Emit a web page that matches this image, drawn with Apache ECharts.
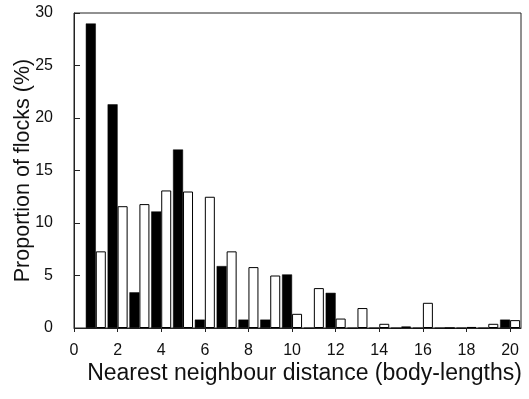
<!DOCTYPE html>
<html>
<head>
<meta charset="utf-8">
<style>html,body{margin:0;padding:0;background:#fff;}#chart{width:529px;height:399px;}</style>
<script src="https://cdn.jsdelivr.net/npm/echarts@6/dist/echarts.min.js"></script>
</head>
<body>
<div id="chart"></div>
<script>
// Nearest neighbour distance bins (body-lengths)
const distances = [1,2,3,4,5,6,7,8,9,10,11,12,13,14,15,16,17,18,19,20];
// Black bars (%)
const blackValues = [29.0, 21.3, 3.4, 11.1, 17.0, 0.8, 5.9, 0.8, 0.8, 5.1, 0, 3.35, 0, 0, 0, 0, 0, 0, 0, 0.8];
// White bars (%)
const whiteValues = [7.3, 11.6, 11.8, 13.1, 13.0, 12.5, 7.3, 5.8, 5.0, 1.35, 3.8, 0.9, 1.9, 0.4, 0.15, 2.4, 0, 0.1, 0.4, 0.75];
const xTickValues = [0,2,4,6,8,10,12,14,16,18,20];

const font = "'Liberation Sans', Arial, Helvetica, sans-serif";
const chart = echarts.init(document.getElementById('chart'), null, {renderer: 'canvas'});
chart.setOption({
  animation: false,
  backgroundColor: '#fff',
  grid: {left: 74, right: 8, top: 13, bottom: 71, show: true, borderColor: '#222', borderWidth: 1, containLabel: false, outerBoundsMode: 'none'},
  xAxis: {
    type: 'value', min: 0, max: 20.5,
    name: 'Nearest neighbour distance (body-lengths)',
    nameLocation: 'middle', nameGap: 34, nameMoveOverlap: false,
    nameTextStyle: {fontFamily: font, fontSize: 23, color: '#111', padding: [0,0,0,14]},
    axisLine: {show: true, onZero: false, lineStyle: {color: '#222', width: 1}},
    axisTick: {show: true, inside: false, length: 4, customValues: xTickValues, lineStyle: {color: '#222'}},
    axisLabel: {fontFamily: font, fontSize: 16, color: '#111', margin: 15, customValues: xTickValues},
    splitLine: {show: false}
  },
  yAxis: {
    type: 'value', min: 0, max: 30, interval: 5,
    name: 'Proportion of flocks (%)',
    nameLocation: 'middle', nameGap: 40, nameMoveOverlap: false,
    nameTextStyle: {fontFamily: font, fontSize: 21.5, color: '#111'},
    axisLine: {show: true, lineStyle: {color: '#222', width: 1}},
    axisTick: {show: true, inside: true, length: 6, lineStyle: {color: '#222'}},
    axisLabel: {fontFamily: font, fontSize: 16, color: '#111', margin: 21},
    splitLine: {show: false}
  },
  series: [
    {
      type: 'bar', name: 'black', barWidth: 10, barGap: '0%',
      data: distances.map((d, i) => [d, blackValues[i]]),
      itemStyle: {color: '#000', borderColor: '#000', borderWidth: 0.5}
    },
    {
      type: 'bar', name: 'white', barWidth: 10, barGap: '0%',
      data: distances.map((d, i) => [d, whiteValues[i]]),
      itemStyle: {color: '#fff', borderColor: '#000', borderWidth: 1}
    }
  ]
});
</script>
</body>
</html>
